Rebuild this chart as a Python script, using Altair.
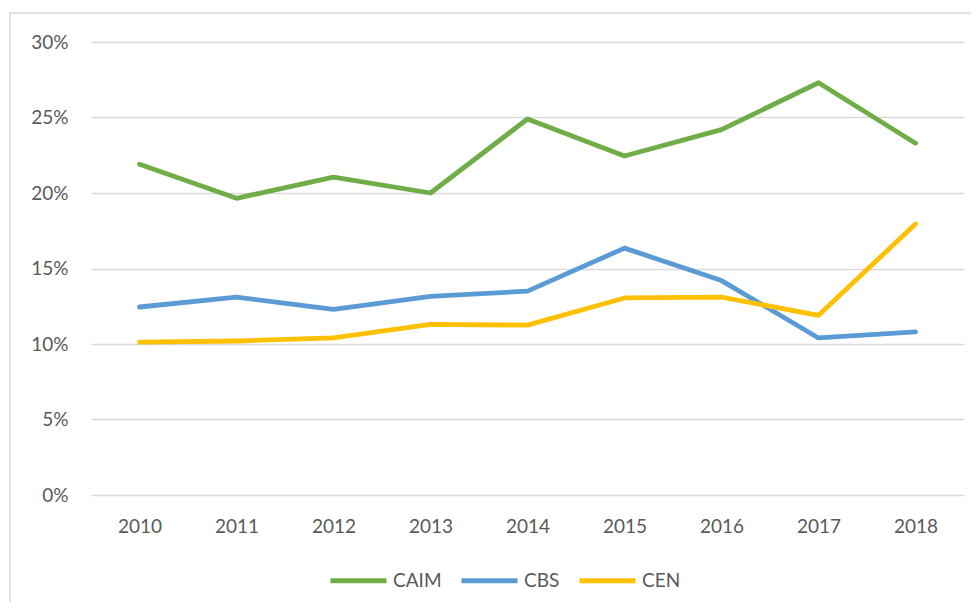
import altair as alt
import pandas as pd

years = ["2010", "2011", "2012", "2013", "2014", "2015", "2016", "2017", "2018"]
caim = [21.9, 19.65, 21.05, 20.0, 24.9, 22.45, 24.2, 27.3, 23.3]
cbs = [12.45, 13.1, 12.3, 13.15, 13.5, 16.35, 14.2, 10.4, 10.8]
cen = [10.13, 10.2, 10.4, 11.3, 11.25, 13.05, 13.1, 11.9, 17.95]
series = ["CAIM", "CBS", "CEN"]
colors = ["#70AD47", "#5B9BD5", "#FFC000"]

rows = []
for name, vals in zip(series, [caim, cbs, cen]):
    for y, v in zip(years, vals):
        rows.append({"year": y, "series": name, "value": v / 100})
df = pd.DataFrame(rows)

FONT = "Lato"
TXT = "#595959"
FS = 19

frame = alt.Chart(pd.DataFrame({"a": [0]})).mark_rect(
    fill=None, stroke="#d9d9d9", strokeWidth=1.5
).encode(
    x=alt.value(-81), x2=alt.value(960), y=alt.value(-29), y2=alt.value(620)
)

lines = alt.Chart(df).mark_line(strokeWidth=4.8, strokeCap="round", strokeJoin="round").encode(
    x=alt.X("year:O", sort=years, title=None,
            scale=alt.Scale(paddingInner=0, paddingOuter=0.5),
            axis=alt.Axis(labelAngle=0, ticks=False, domain=False, grid=False,
                          labelPadding=22, labelFont=FONT, labelFontSize=FS, labelColor=TXT)),
    y=alt.Y("value:Q", title=None,
            scale=alt.Scale(domain=[0, 0.3], nice=False),
            axis=alt.Axis(format=".0%", values=[0, 0.05, 0.1, 0.15, 0.2, 0.25, 0.3],
                          ticks=False, domain=False, gridColor="#d9d9d9", gridWidth=1.5,
                          labelPadding=23, labelFont=FONT, labelFontSize=FS, labelColor=TXT)),
    color=alt.Color("series:N", sort=series,
                    scale=alt.Scale(domain=series, range=colors),
                    legend=alt.Legend(title=None, orient="none", direction="horizontal",
                                      legendX=237, legendY=508,
                                      symbolType="stroke", symbolSize=3136,
                                      symbolStrokeWidth=5, labelOffset=4,
                                      columnPadding=9,
                                      labelFont=FONT, labelFontSize=FS, labelColor=TXT)),
)

chart = alt.layer(frame, lines).properties(
    width=873, height=453,
    autosize=alt.AutoSizeParams(type="none"),
    padding={"left": 83, "top": 34, "right": 7, "bottom": 107},
).configure_view(stroke=None)

chart.save("out.html", embed_options={"renderer": "svg", "actions": False})
